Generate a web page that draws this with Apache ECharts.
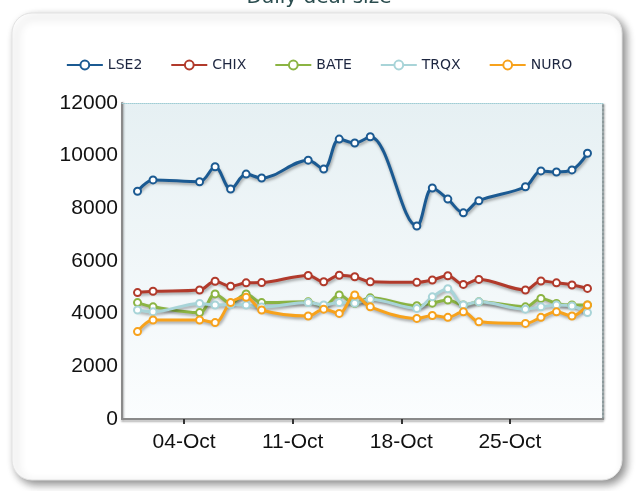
<!DOCTYPE html>
<html>
<head>
<meta charset="utf-8">
<title>Daily deal size</title>
<script src="https://cdn.jsdelivr.net/npm/echarts@6/dist/echarts.min.js"></script>
<style>
  html, body { margin: 0; padding: 0; background: #fff; }
  #chart { width: 638px; height: 491px; }
</style>
</head>
<body>
<div id="chart"></div>
<script>
// trading days, Oct 2009
var dates = [
  "2009-10-01", "2009-10-02",
  "2009-10-05", "2009-10-06", "2009-10-07", "2009-10-08", "2009-10-09",
  "2009-10-12", "2009-10-13", "2009-10-14", "2009-10-15", "2009-10-16",
  "2009-10-19", "2009-10-20", "2009-10-21", "2009-10-22", "2009-10-23",
  "2009-10-26", "2009-10-27", "2009-10-28", "2009-10-29", "2009-10-30"
];

// daily deal size per venue
var lse2 = [8650, 9080, 9010, 9580, 8730, 9300, 9150, 9830, 9490, 10630, 10480, 10720, 7330, 8770, 8350, 7830, 8290, 8820, 9420, 9380, 9460, 10090];
var chix = [4800, 4850, 4900, 5230, 5040, 5170, 5180, 5450, 5210, 5460, 5400, 5210, 5190, 5280, 5440, 5110, 5300, 4900, 5240, 5170, 5090, 4960];
var bate = [4420, 4260, 4040, 4750, 4400, 4750, 4420, 4450, 4290, 4710, 4390, 4600, 4300, 4400, 4520, 4330, 4450, 4260, 4580, 4390, 4330, 4330];
var trqx = [4140, 4070, 4390, 4330, 4350, 4330, 4250, 4420, 4330, 4420, 4400, 4550, 4200, 4640, 4950, 4330, 4450, 4170, 4260, 4330, 4290, 4040];
var nuro = [3320, 3760, 3760, 3660, 4420, 4620, 4140, 3910, 4170, 4010, 4710, 4260, 3820, 3930, 3860, 4070, 3690, 3630, 3860, 4070, 3910, 4330];

var names = ["LSE2", "CHIX", "BATE", "TRQX", "NURO"];
var colors = ["#1b5a92", "#b13a2b", "#8bb443", "#a8d4d8", "#f7a21c"];

// weekly x ticks
var tickDates = ["2009-10-04", "2009-10-11", "2009-10-18", "2009-10-25"];
var tickLabels = ["04-Oct", "11-Oct", "18-Oct", "25-Oct"];
var xMin = "2009-09-30", xMax = "2009-10-31";

// dates as day numbers (days since 1970, UTC)
var toDay = function (s) { return Date.parse(s) / 864e5; };
var tickDays = tickDates.map(toDay);

var makeSeries = function (name, values, color) {
  return {
    name: name,
    type: "line",
    smooth: 0.35,
    symbol: "emptyCircle",
    symbolSize: 7,
    data: values.map(function (v, i) { return [toDay(dates[i]), v]; }),
    lineStyle: {
      width: 3,
      color: color,
      shadowColor: "rgba(0,0,0,0.35)",
      shadowBlur: 3,
      shadowOffsetX: 1,
      shadowOffsetY: 2
    },
    itemStyle: { color: color, borderWidth: 2 }
  };
};

var allValues = [lse2, chix, bate, trqx, nuro];

var option = {
  animation: false,
  title: {
    text: "Daily deal size",
    left: "center",
    top: -17,
    textStyle: { fontFamily: "DejaVu Sans", fontSize: 20, fontWeight: "normal", color: "#2b4d4f" }
  },
  graphic: [{
    type: "rect",
    z: -10,
    silent: true,
    shape: { x: 12, y: 13, width: 610, height: 467, r: 20 },
    style: {
      fill: "#fff",
      stroke: "#e2e2e2",
      lineWidth: 1,
      shadowBlur: 8,
      shadowOffsetX: 4,
      shadowOffsetY: 4,
      shadowColor: "rgba(0,0,0,0.45)"
    }
  }],
  legend: {
    top: 53,
    left: "center",
    itemWidth: 36,
    itemHeight: 11,
    itemGap: 28,
    textStyle: { fontFamily: "DejaVu Sans", fontSize: 14, color: "#1d2640" },
    data: names
  },
  grid: {
    left: 122,
    right: 35,
    top: 103,
    bottom: 72,
    show: true,
    borderWidth: 0,
    backgroundColor: new echarts.graphic.LinearGradient(0, 0, 0, 1, [
      { offset: 0, color: "#e6f0f3" },
      { offset: 1, color: "#fbfdfe" }
    ])
  },
  xAxis: [{
    type: "value",
    position: "bottom",
    min: toDay(xMin),
    max: toDay(xMax),
    splitLine: { show: false },
    axisLine: {
      onZero: false,
      lineStyle: { color: "#8a8a8a", width: 2, shadowColor: "rgba(0,0,0,0.3)", shadowBlur: 2, shadowOffsetY: 2 }
    },
    axisTick: { customValues: tickDays, length: 5, lineStyle: { color: "#333", width: 2 } },
    axisLabel: {
      customValues: tickDays,
      margin: 13,
      fontFamily: "Liberation Sans",
      fontSize: 21,
      color: "#111",
      formatter: function (v) {
        for (var i = 0; i < tickDays.length; i++) {
          if (Math.abs(tickDays[i] - v) < 0.01) return tickLabels[i];
        }
        return "";
      }
    }
  }, {
    type: "value",
    position: "top",
    min: toDay(xMin),
    max: toDay(xMax),
    splitLine: { show: false },
    axisTick: { show: false },
    axisLabel: { show: false },
    axisLine: { onZero: false, lineStyle: { color: "#9fcdd4", type: "dotted", width: 1 } }
  }],
  yAxis: [{
    type: "value",
    min: 0,
    max: 12000,
    interval: 2000,
    splitLine: { show: false },
    axisTick: { show: false },
    axisLine: {
      show: true,
      onZero: false,
      lineStyle: { color: "#8a8a8a", width: 2, shadowColor: "rgba(0,0,0,0.3)", shadowBlur: 2, shadowOffsetX: 1 }
    },
    axisLabel: {
      margin: 4,
      fontFamily: "Liberation Sans",
      fontSize: 21,
      color: "#111",
      formatter: function (v) { return String(v); }
    }
  }, {
    type: "value",
    position: "right",
    min: 0,
    max: 12000,
    splitLine: { show: false },
    axisTick: { show: false },
    axisLabel: { show: false },
    axisLine: {
      show: true,
      onZero: false,
      lineStyle: { color: "#8d9a9c", type: "dotted", width: 2, shadowColor: "rgba(0,0,0,0.3)", shadowBlur: 2, shadowOffsetX: 1 }
    }
  }],
  series: names.map(function (n, i) { return makeSeries(n, allValues[i], colors[i]); })
};

var myChart = echarts.init(document.getElementById("chart"));
myChart.setOption(option);
</script>
</body>
</html>
